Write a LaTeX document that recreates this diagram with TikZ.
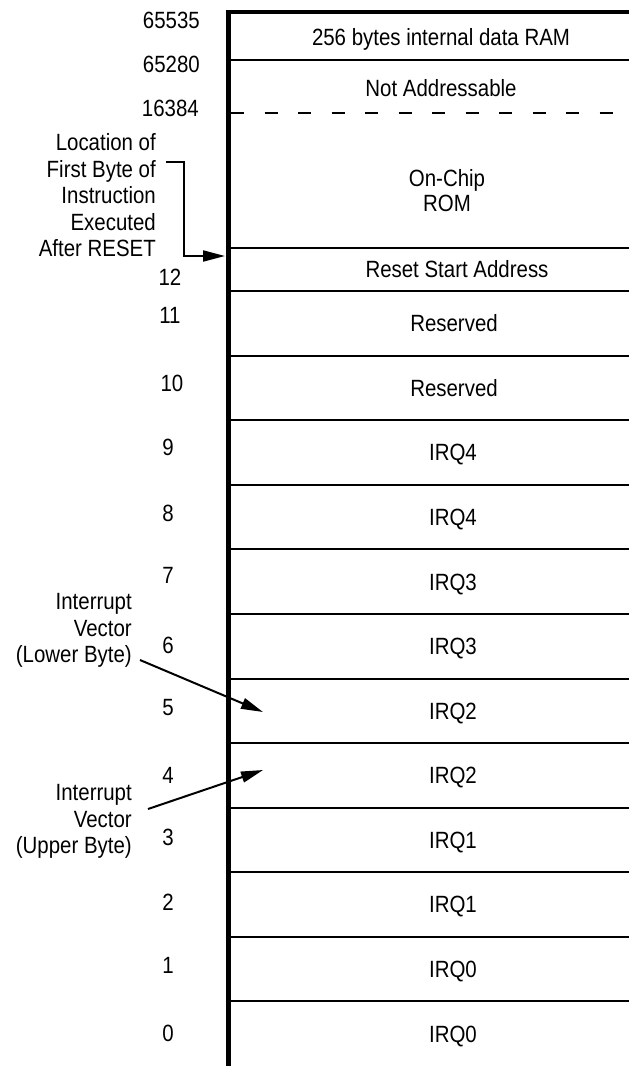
\documentclass[tikz,border=0pt]{standalone}
\usepackage{fontspec}
\setmainfont{Liberation Sans}[FakeStretch=0.87]
\usetikzlibrary{arrows.meta}
\begin{document}
\begin{tikzpicture}[x=1pt,y=-1pt,
  txt/.style={inner sep=0pt, font=\fontsize{23.5}{26.5}\selectfont},
  one/.style={txt, text height=16.8pt, text depth=0pt},
  sep/.style={line width=2pt},
  arr/.style={line width=2pt, -{Triangle[length=22pt,width=11pt]}}]
\useasboundingbox[fill=white] (0,0) rectangle (629,1066);

% frame
\draw[line width=5pt] (228,10) -- (228,1066);
\draw[line width=4pt] (225.5,12) -- (629,12);
\draw[sep] (228,60) -- (629,60);
\draw[sep, dash pattern=on 13pt off 20.5pt] (231,113) -- (629,113);
\foreach \yy in {248,291,355.6,420.2,484.7,549.3,613.9,678.5,743.1,807.6,872.2,936.8,1001.4}
  \draw[sep] (228,\yy) -- (629,\yy);

% region texts
\node[one] (ram) at (441,37) {256 bytes internal data RAM};
\node[one] (na) at (441,88) {Not Addressable};
\node[txt, align=center, anchor=north, font=\fontsize{23.5}{25}\selectfont] (rom) at (447,169.5) {On-Chip\\ROM};
\node[one] (rsa) at (457,269.5) {Reset Start Address};
\node[one] (r11) at (454,323.3) {Reserved};
\node[one] (r10) at (454,387.9) {Reserved};
\node[one] (r9) at (453,452.5) {IRQ4};
\node[one] (r8) at (453,517) {IRQ4};
\node[one] (r7) at (453,581.6) {IRQ3};
\node[one] (r6) at (453,646.2) {IRQ3};
\node[one] (r5) at (453,710.8) {IRQ2};
\node[one] (r4) at (453,775.4) {IRQ2};
\node[one] (r3) at (453,839.9) {IRQ1};
\node[one] (r2) at (453,904.5) {IRQ1};
\node[one] (r1) at (453,969.1) {IRQ0};
\node[one] (r0) at (453,1033.7) {IRQ0};

% addresses
\node[one, anchor=east] (a65535) at (200,20) {65535};
\node[one, anchor=east] (a65280) at (200,64) {65280};
\node[one, anchor=east] (a16384) at (199,108) {16384};
\node[one] (n12) at (170,277) {12};
\node[one] (n11) at (170,315) {11};
\node[one] (n10) at (172,383) {10};
\node[one] (n9) at (168,447) {9};
\node[one] (n8) at (168,513) {8};
\node[one] (n7) at (168,575) {7};
\node[one] (n6) at (168,645) {6};
\node[one] (n5) at (168,707) {5};
\node[one] (n4) at (168,775) {4};
\node[one] (n3) at (168,837) {3};
\node[one] (n2) at (168,902) {2};
\node[one] (n1) at (168,965) {1};
\node[one] (n0) at (168,1033) {0};

% left annotations
\node[txt, align=right, anchor=north east] (loc) at (156,133.5)
  {Location of\\First Byte of\\Instruction\\Executed\\After RESET};
\node[txt, align=right, anchor=north east] (low) at (132,593.5)
  {Interrupt\\Vector\\(Lower Byte)};
\node[txt, align=right, anchor=north east] (up) at (132,784.5)
  {Interrupt\\Vector\\(Upper Byte)};

\coordinate (brk) at (166,162);
\coordinate (brkT) at (225,256);
\draw[arr] (brk) -| (184,256) -- (brkT);

\coordinate (lowS) at (140,660);
\coordinate (lowT) at (263,712);
\draw[arr] (lowS) -- (lowT);

\coordinate (upS) at (148,809);
\coordinate (upT) at (263,770);
\draw[arr] (upS) -- (upT);
\end{tikzpicture}
\end{document}
